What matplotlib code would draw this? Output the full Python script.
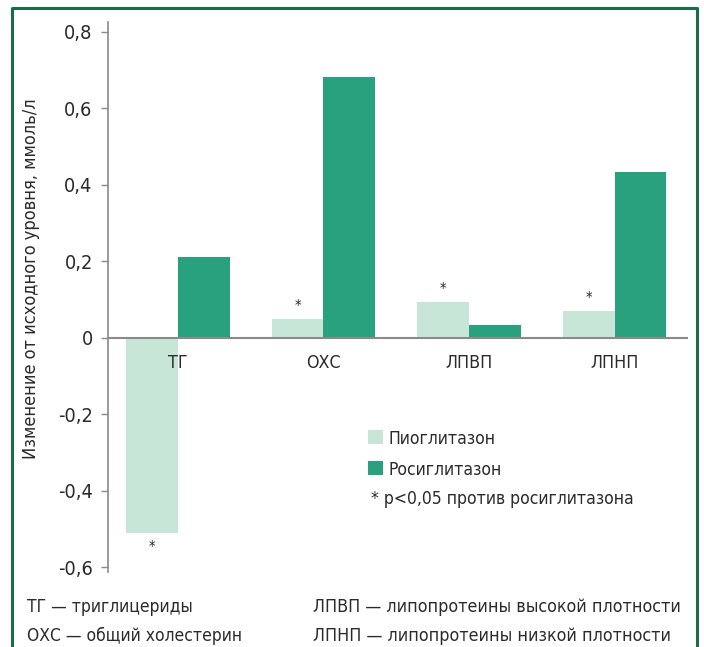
import matplotlib
matplotlib.use("Agg")
import matplotlib.pyplot as plt
from matplotlib.patches import Rectangle
from matplotlib.lines import Line2D
from matplotlib import font_manager as fm
import numpy as np

categories = ["ТГ", "ОХС", "ЛПВП", "ЛПНП"]
pioglitazone = [-0.51, 0.05, 0.094, 0.071]
rosiglitazone = [0.212, 0.682, 0.034, 0.434]
pio_signif = [True, True, True, True]
yticks = [-0.6, -0.4, -0.2, 0, 0.2, 0.4, 0.6, 0.8]
ytick_labels = ["-0,6", "-0,4", "-0,2", "0", "0,2", "0,4", "0,6", "0,8"]
series_names = ["Пиоглитазон", "Росиглитазон"]
note = "* p<0,05 против росиглитазона"
ylabel = "Изменение от исходного уровня, ммоль/л"
footnotes = [("ТГ — триглицериды", "ЛПВП — липопротеины высокой плотности"),
             ("ОХС — общий холестерин", "ЛПНП — липопротеины низкой плотности")]

# pick a condensed / narrow font if one is installed
chosen = None
for f in fm.fontManager.ttflist:
    st = str(f.stretch).lower()
    nm = f.name
    if (("condensed" in st and "semi" not in st) or "Condensed" in nm or "Narrow" in nm) \
            and f.style == "normal" and str(f.weight) in ("400", "normal", "regular", "book"):
        chosen = f
        break
if chosen is not None:
    plt.rcParams['font.family'] = [chosen.name, "DejaVu Sans"]
    plt.rcParams['font.stretch'] = chosen.stretch
    k = 1.0
else:
    plt.rcParams['font.family'] = ["Roboto", "DejaVu Sans"]
    k = 0.86

c_pio = "#c8e6d8"
c_ros = "#2aa17e"
c_txt = "#2a2a2a"
c_axis = "#8a8a8a"
c_border = "#1d6b47"

W, H = 704, 647
fig = plt.figure(figsize=(W/100, H/100), dpi=100)
fy = lambda py: 1 - py / H
fx = lambda px: px / W

# open-bottom frame
fig.add_artist(Line2D([fx(12), fx(12), fx(697), fx(697)], [0, fy(8), fy(8), 0],
                      transform=fig.transFigure, color=c_border, linewidth=2.2))

ax = fig.add_axes([fx(108), fy(572), fx(688-108), (572-22)/H])
x = np.arange(len(categories))
w = 0.354
ax.bar(x - w/2, pioglitazone, width=w, color=c_pio, label=series_names[0], zorder=2)
ax.bar(x + w/2, rosiglitazone, width=w, color=c_ros, label=series_names[1], zorder=2)

for i, (v, s) in enumerate(zip(pioglitazone, pio_signif)):
    if s:
        yy = v + 0.032 if v >= 0 else v - 0.038
        ax.text(x[i] - w/2, yy, "*", ha="center", va="center", fontsize=10.5, color=c_txt)

ax.set_xlim(-0.481, 3.505)
ax.set_ylim(-0.612, 0.826)
ax.set_yticks(yticks)
ax.set_yticklabels(ytick_labels, fontsize=14.3*k, color=c_txt)
ax.tick_params(axis="y", direction="out", length=5, width=1, color=c_axis, pad=6)
ax.set_xticks([])
for sp in ["top", "right", "bottom"]:
    ax.spines[sp].set_visible(False)
ax.spines["left"].set_color(c_axis)
ax.spines["left"].set_linewidth(1.2)
ax.axhline(0, color=c_axis, linewidth=1.5, zorder=3)

for i, c in enumerate(categories):
    ax.text(x[i], -0.0784, c, ha="center", va="baseline", fontsize=12.8*k, color=c_txt)

fig.text(fx(31), fy(279), ylabel, rotation=90, ha="center", va="center", fontsize=13.1*k, color=c_txt)

for j, (name, col) in enumerate(zip(series_names, [c_pio, c_ros])):
    yc = 437 + 31*j
    fig.patches.append(Rectangle((fx(368), fy(yc + 7)), 15/W, 14/H, transform=fig.transFigure,
                                 facecolor=col, edgecolor="none"))
    fig.text(fx(388), fy(yc + 7), name, ha="left", va="baseline", fontsize=12.6*k, color=c_txt)
fig.text(fx(371), fy(504), note, ha="left", va="baseline", fontsize=12.6*k, color=c_txt)

for r, (a, b) in enumerate(footnotes):
    yy = 612 + 29*r
    fig.text(fx(27), fy(yy), a, ha="left", va="baseline", fontsize=12.5*k, color=c_txt)
    fig.text(fx(313), fy(yy), b, ha="left", va="baseline", fontsize=12.8*k, color=c_txt)

fig.savefig("out.png", dpi=100)
